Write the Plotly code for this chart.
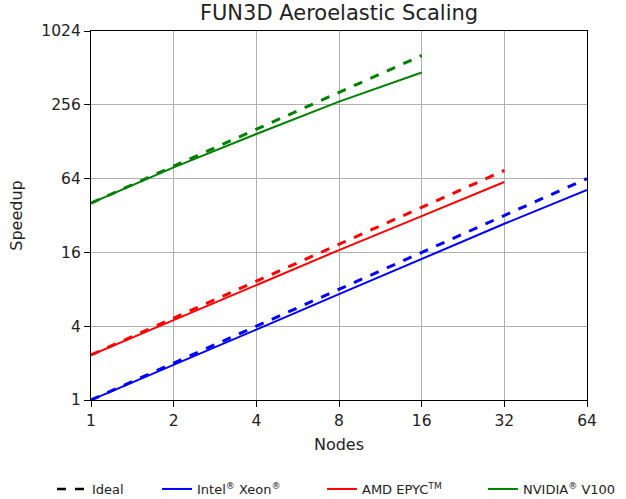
import plotly.graph_objects as go

intel_nodes = [1, 2, 4, 8, 16, 32, 64]
intel_actual = [1.0, 1.93, 3.75, 7.3, 14.2, 27.4, 51.7]
intel_ideal = [1, 2, 4, 8, 16, 32, 64]

amd_nodes = [1, 2, 4, 8, 16, 32]
amd_actual = [2.33, 4.5, 8.7, 16.7, 31.6, 60.0]
amd_ideal = [2.33, 4.66, 9.32, 18.64, 37.28, 74.56]

nvidia_nodes = [1, 2, 4, 8, 16]
nvidia_actual = [40.4, 79.0, 148.0, 272.0, 470.0]
nvidia_ideal = [40.4, 80.8, 161.6, 323.2, 646.4]

xticks = [1, 2, 4, 8, 16, 32, 64]
yticks = [1, 4, 16, 64, 256, 1024]

W, H = 626, 499

fig = go.Figure()

fig.add_trace(go.Scatter(x=[None], y=[None], mode="lines", name="Ideal",
                         legend="legend",
                         line=dict(color="black", width=2.5, dash="dash")))

series = [
    ("Intel<sup>®</sup> Xeon<sup>®</sup>", "blue", intel_nodes, intel_actual, intel_ideal, "legend2"),
    ("AMD EPYC<sup>TM</sup>", "red", amd_nodes, amd_actual, amd_ideal, "legend3"),
    ("NVIDIA<sup>®</sup> V100", "green", nvidia_nodes, nvidia_actual, nvidia_ideal, "legend4"),
]
for name, color, xs, act, ide, lg in series:
    fig.add_trace(go.Scatter(x=xs, y=ide, mode="lines", showlegend=False,
                             line=dict(color=color, width=3, dash="dash")))
    fig.add_trace(go.Scatter(x=xs, y=act, mode="lines", name=name, legend=lg,
                             line=dict(color=color, width=2)))

axis_common = dict(type="log", showgrid=True, gridcolor="#b0b0b0", gridwidth=1,
                   showline=True, linecolor="black", linewidth=1.2, mirror=True,
                   ticks="outside", ticklen=6, tickcolor="black",
                   tickfont=dict(family="DejaVu Sans", size=15.5, color="#222"),
                   zeroline=False)


def leg(xpx):
    return dict(orientation="h", xref="container", x=xpx / W, xanchor="left",
                yref="container", y=(H - 489) / H, yanchor="middle",
                font=dict(family="DejaVu Sans", size=13, color="#222"),
                bgcolor="rgba(0,0,0,0)")


fig.update_layout(
    width=W, height=H,
    margin=dict(l=91, r=39, t=31, b=99),
    paper_bgcolor="white", plot_bgcolor="white",
    title=dict(text="FUN3D Aeroelastic Scaling", xref="paper", x=0.5, xanchor="center",
               yref="container", y=0.974, yanchor="middle",
               font=dict(family="DejaVu Sans", size=21, color="#222")),
    xaxis=dict(axis_common, range=[0, 1.80618], tickvals=xticks,
               ticktext=[str(v) for v in xticks],
               title=dict(text="Nodes", font=dict(family="DejaVu Sans", size=16, color="#222"),
                          standoff=10)),
    yaxis=dict(axis_common, range=[0, 3.0103], tickvals=yticks,
               ticktext=[str(v) for v in yticks],
               title=dict(text="Speedup", font=dict(family="DejaVu Sans", size=16, color="#222"),
                          standoff=14)),
    legend=leg(52),
    legend2=leg(157),
    legend3=leg(322),
    legend4=leg(483),
)

fig.write_html("out.html")
